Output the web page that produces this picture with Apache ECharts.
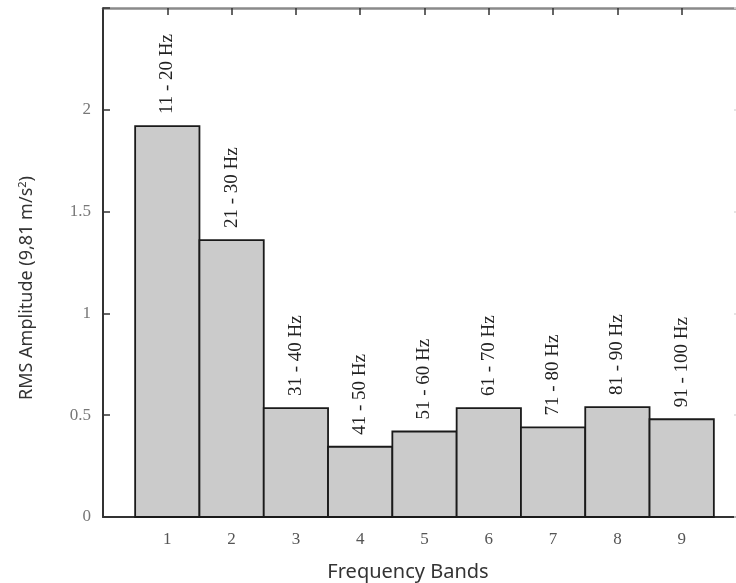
<!DOCTYPE html>
<html>
<head>
<meta charset="utf-8">
<script src="https://cdn.jsdelivr.net/npm/echarts@6/dist/echarts.min.js"></script>
<style>html,body{margin:0;padding:0;background:#fff}#c{width:736px;height:583px}</style>
</head>
<body>
<div id="c"></div>
<script>
const bands = [1, 2, 3, 4, 5, 6, 7, 8, 9];
const rmsValues = [1.92, 1.36, 0.535, 0.345, 0.42, 0.535, 0.44, 0.54, 0.48];
const bandLabels = ['11 - 20 Hz', '21 - 30 Hz', '31 - 40 Hz', '41 - 50 Hz', '51 - 60 Hz', '61 - 70 Hz', '71 - 80 Hz', '81 - 90 Hz', '91 - 100 Hz'];
const yTicks = [0, 0.5, 1, 1.5, 2];

const chart = echarts.init(document.getElementById('c'));
const serif = 'Liberation Serif';
chart.setOption({
  animation: false,
  grid: { left: 103, top: 8, right: -10, bottom: 66, containLabel: false, outerBoundsMode: 'none' },
  xAxis: [
    { type: 'value', position: 'bottom', min: 0, max: 10, interval: 1,
      axisLine: { onZero: false, lineStyle: { color: '#333', width: 2 } },
      axisTick: { inside: true, length: 6, lineStyle: { color: '#333', width: 1.5 } },
      axisLabel: { margin: 14, color: '#555', fontFamily: serif, fontSize: 17,
        formatter: v => bands.indexOf(v) >= 0 ? String(v) : '' },
      splitLine: { show: false } },
    { type: 'value', position: 'top', min: 0, max: 10, interval: 1,
      axisLine: { onZero: false, lineStyle: { color: '#8a8a8a', width: 2.5 } },
      axisTick: { inside: true, length: 7, lineStyle: { color: '#333', width: 1.5 } },
      axisLabel: { show: false }, splitLine: { show: false } }
  ],
  yAxis: [
    { type: 'value', position: 'left', min: 0, max: 2.5, interval: 0.5,
      axisLine: { show: true, onZero: false, lineStyle: { color: '#333', width: 2 } },
      axisTick: { show: true, inside: true, length: 7, lineStyle: { color: '#333', width: 1.5 } },
      axisLabel: { margin: 12, color: '#777', fontFamily: serif, fontSize: 17,
        formatter: v => yTicks.indexOf(v) >= 0 ? String(v) : '' },
      splitLine: { show: false } },
    { type: 'value', position: 'right', min: 0, max: 2.5, interval: 0.5,
      axisLine: { show: true, onZero: false, lineStyle: { color: '#888', width: 2 } },
      axisTick: { show: true, inside: true, length: 12, lineStyle: { color: '#ddd', width: 1.5 } },
      axisLabel: { show: false }, splitLine: { show: false } }
  ],
  series: [{
    type: 'custom',
    xAxisIndex: 0, yAxisIndex: 0,
    data: bands.map((b, i) => [b, rmsValues[i]]),
    renderItem: function (params, api) {
      const x = api.value(0), y = api.value(1);
      const p0 = api.coord([x - 0.5, 0]);
      const p1 = api.coord([x + 0.5, y]);
      return {
        type: 'group',
        children: [
          { type: 'rect',
            shape: { x: p0[0], y: p1[1], width: p1[0] - p0[0], height: p0[1] - p1[1] },
            style: { fill: '#cbcbcb', stroke: '#1a1a1a', lineWidth: 1.8 } },
          { type: 'text', x: (p0[0] + p1[0]) / 2, y: p1[1] - 12, rotation: Math.PI / 2,
            style: { text: bandLabels[params.dataIndex], align: 'left', verticalAlign: 'middle',
              fontFamily: serif, fontSize: 19, fill: '#222' } }
        ]
      };
    }
  }],
  graphic: [
    { type: 'text', x: 408, y: 572,
      style: { text: 'Frequency Bands', align: 'center', verticalAlign: 'middle',
        fontFamily: 'Noto Sans', fontSize: 20, fill: '#333' } },
    { type: 'text', x: 27, y: 288, rotation: Math.PI / 2,
      style: { text: '{a|RMS Amplitude (9,81 m/s}{b|2}{a|)}', align: 'center', verticalAlign: 'middle',
        rich: { a: { fontFamily: 'Noto Sans', fontSize: 18, fill: '#333' },
                b: { fontFamily: 'Noto Sans', fontSize: 11, fill: '#333', verticalAlign: 'top', padding: [0, 0, 9, 0] } } } }
  ]
});
</script>
</body>
</html>
